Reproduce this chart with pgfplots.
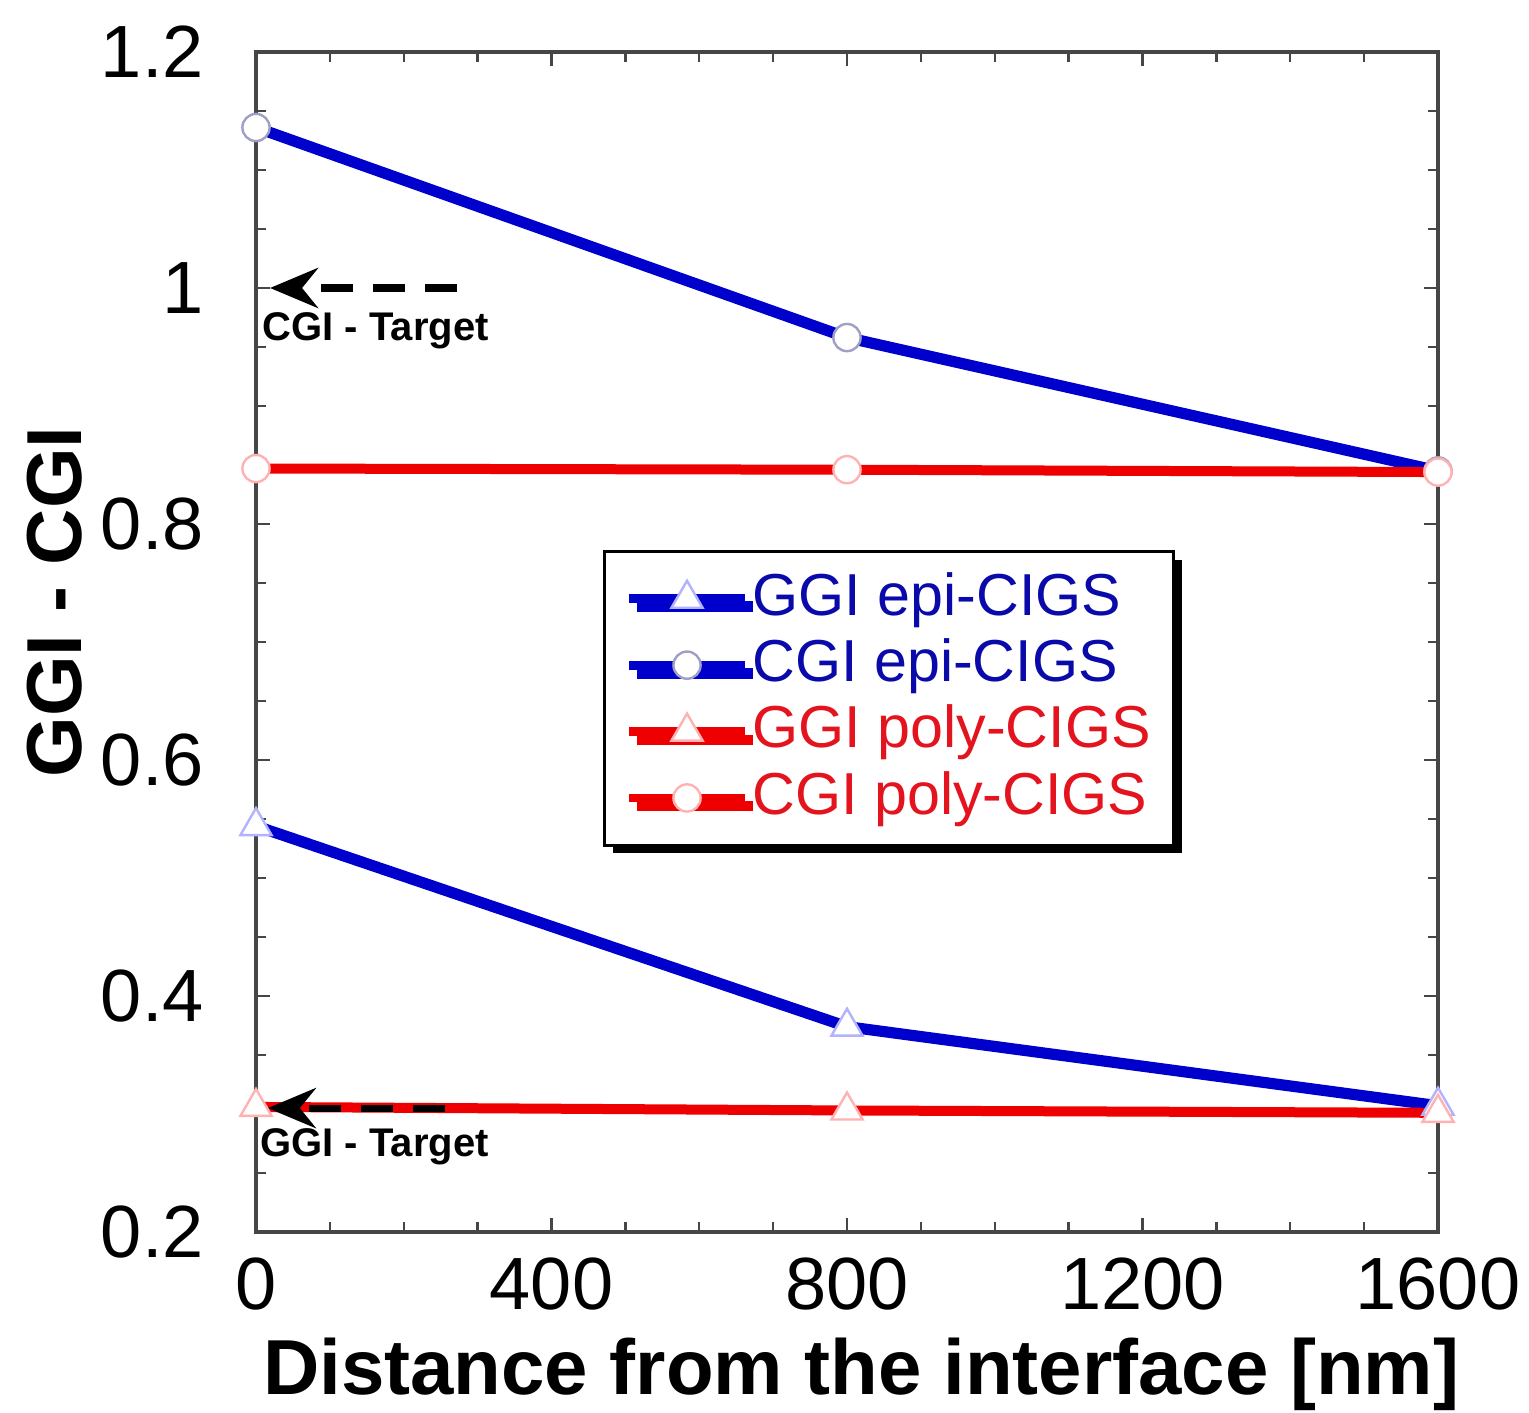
\documentclass[border=0pt]{standalone}
\usepackage{fontspec}
\setmainfont{Liberation Sans}
\usepackage{pgfplots}
\pgfplotsset{compat=1.18}
\usetikzlibrary{arrows.meta,shadows}
\definecolor{epiblue}{RGB}{0,0,205}
\definecolor{polyred}{RGB}{238,0,0}
\definecolor{epitext}{RGB}{10,10,170}
\definecolor{polytext}{RGB}{228,20,30}
\definecolor{axgray}{RGB}{70,70,70}
\begin{document}
\begin{tikzpicture}
\begin{axis}[
  scale only axis,
  width=295.5pt, height=295pt,
  xmin=0, xmax=1600, ymin=0.2, ymax=1.2,
  xtick={0,400,800,1200,1600},
  ytick={0.2,0.4,0.6,0.8,1.0,1.2},
  minor x tick num=3, minor y tick num=3,
  tick align=inside, tick pos=both,
  major tick length=3.5pt, minor tick length=2.5pt,
  axis line style={axgray, line width=0.8pt},
  every tick/.style={axgray, line width=0.6pt},
  /pgf/number format/assume math mode=true,
  /pgf/number format/.cd, fixed, precision=1, 1000 sep={}, /pgfplots/.cd,
  tick label style={font=\fontsize{18.5}{18.5}\selectfont},
  xticklabel style={yshift=-3pt},
  yticklabel style={xshift=-9.5pt},
  xlabel={Distance from the interface [nm]},
  ylabel={GGI - CGI},
  every axis x label/.style={at={(axis description cs:0.512,-0.138)}, anchor=base,
    font=\fontsize{19.5}{20}\selectfont\bfseries},
  every axis y label/.style={at={(axis description cs:-0.170,0.534)}, rotate=90, anchor=center,
    font=\fontsize{19.5}{20}\selectfont\bfseries},
  legend style={at={(0.2936,0.578)}, anchor=north west,
    draw=black, line width=0.8pt, fill=white,
    general shadow={fill=black, shadow xshift=2pt, shadow yshift=-2pt},
    font=\fontsize{14.8}{16}\selectfont,
    inner xsep=5pt, inner ysep=3.5pt,
    nodes={inner sep=0.8pt, text height=11.6pt, text depth=3.4pt},
    legend cell align=left},
  legend image code/.code={\draw[mark repeat=2,mark phase=2,#1,line width=2.2pt] plot coordinates {(0pt,0pt) (14.5pt,0pt) (29pt,0pt)};},
]
\addplot[epiblue, line width=2.8pt, mark=triangle*, mark size=4.5pt,
  mark options={fill=white, draw=blue!30, line width=0.6pt}]
  coordinates {(0,0.544) (800,0.374) (1600,0.307)};
\addlegendentry{\textcolor{epitext}{GGI epi-CIGS}}
\addplot[epiblue, line width=2.8pt, mark=*, mark size=3.4pt,
  mark options={fill=white, draw=blue!25!gray!60, line width=0.6pt}]
  coordinates {(0,1.136) (800,0.958) (1600,0.845)};
\addlegendentry{\textcolor{epitext}{CGI epi-CIGS}}
\addplot[polyred, line width=2.5pt, mark=triangle*, mark size=4.5pt,
  mark options={fill=white, draw=red!30, line width=0.6pt}]
  coordinates {(0,0.306) (800,0.303) (1600,0.301)};
\addlegendentry{\textcolor{polytext}{GGI poly-CIGS}}
\addplot[polyred, line width=2.5pt, mark=*, mark size=3.4pt,
  mark options={fill=white, draw=red!30, line width=0.6pt}]
  coordinates {(0,0.847) (800,0.846) (1600,0.844)};
\addlegendentry{\textcolor{polytext}{CGI poly-CIGS}}
\draw[black, line width=1.8pt, dash pattern=on 8pt off 5pt, -{Stealth[length=12pt,width=10pt,inset=4pt]}]
  (axis cs:272,1.0) -- (axis cs:19,1.0);
\node[anchor=west, font=\fontsize{10}{10}\selectfont\bfseries, inner sep=0pt] at (axis cs:8,0.964) {CGI - Target};
\draw[black, line width=1.8pt, dash pattern=on 8pt off 5pt, -{Stealth[length=12pt,width=10pt,inset=4pt]}]
  (axis cs:256,0.305) -- (axis cs:16,0.305);
\node[anchor=west, font=\fontsize{10}{10}\selectfont\bfseries, inner sep=0pt] at (axis cs:5,0.272) {GGI - Target};
\end{axis}
\pgfresetboundingbox
\path[use as bounding box] (-64pt,-45pt) rectangle (318.25pt,308pt);
\end{tikzpicture}
\end{document}
